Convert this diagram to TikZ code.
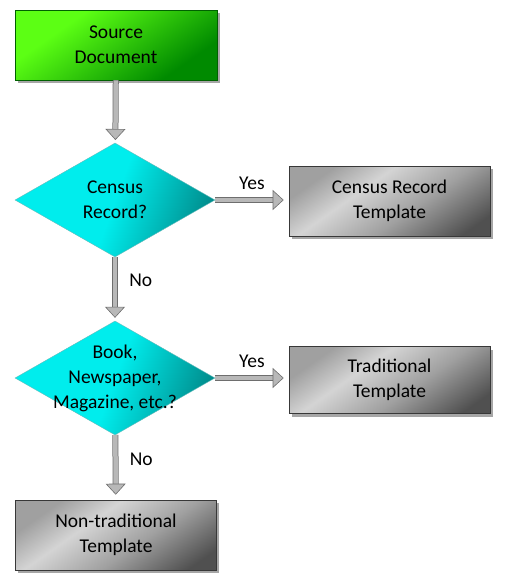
\documentclass[tikz,border=0pt]{standalone}
\usepackage{fontspec}
\setmainfont{Carlito}
\usetikzlibrary{arrows.meta,positioning,shapes.geometric,shadows}
\definecolor{greenlt}{HTML}{5CFF14}
\definecolor{greendk}{HTML}{008A00}
\definecolor{cyanlt}{HTML}{00EDED}
\definecolor{tealdk}{HTML}{008C8C}
\definecolor{steellt}{HTML}{D4D4D4}
\definecolor{steelmd}{HTML}{A0A0A0}
\definecolor{steeldk}{HTML}{505050}
\definecolor{shaftgray}{HTML}{B8B8B8}
\definecolor{edgegray}{HTML}{6E6E6E}
\pgfdeclarehorizontalshading{greenshade}{100bp}{color(0bp)=(greenlt); color(32bp)=(greenlt); color(72bp)=(greendk); color(100bp)=(greendk)}
\pgfdeclarehorizontalshading{cyanshade}{100bp}{color(0bp)=(cyanlt); color(50bp)=(cyanlt); color(76bp)=(tealdk); color(100bp)=(tealdk)}
\pgfdeclarehorizontalshading{steelshade}{100bp}{color(0bp)=(steelmd); color(26bp)=(steelmd); color(40bp)=(steellt); color(58bp)=(steelmd); color(78bp)=(steeldk); color(100bp)=(steeldk)}
\newcommand\flowfont{\fontsize{19.5}{25}\selectfont}
\tikzset{
  boxshadow/.style={drop shadow={shadow xshift=2.5pt,shadow yshift=-3pt,
                    opacity=0.35,fill=black}},
  startbox/.style={draw=greendk!70!black,line width=0.6pt,shading=greenshade,
                   shading angle=-55,minimum width=202pt,minimum height=70pt,
                   align=center,font=\flowfont,boxshadow},
  template/.style={draw=steeldk!70!black,line width=0.6pt,shading=steelshade,
                   shading angle=-55,minimum width=201pt,minimum height=70pt,
                   align=center,font=\flowfont,boxshadow},
  decision/.style={diamond,draw=tealdk!60,line width=0.4pt,shading=cyanshade,
                   shading angle=-20,minimum width=200pt,minimum height=114pt,
                   aspect=1.75,inner sep=-16pt,align=center,font=\flowfont},
  flowarr/.style={draw=shaftgray,line width=4.5pt,shorten >=5pt,
                  -{Triangle[length=11pt,width=20pt,line width=0.6pt,
                    fill=shaftgray,color=edgegray]},
                  preaction={draw=edgegray,line width=6pt,-,shorten >=14pt}},
  lbl/.style={font=\flowfont,inner sep=2pt}
}
\begin{document}
\begin{tikzpicture}[x=1pt,y=1pt]
  \path[use as bounding box] (0,0) rectangle (504,-587);
  \node[startbox] (src) at (116,-45) {Source\\Document};
  \node[decision] (censusq) at (115,-200) {Census\\Record?};
  \node[template] (census) at (389.5,-201) {Census Record\\Template};
  \node[decision] (printq) at (115,-378) {Book,\\Newspaper,\\Magazine, etc.?};
  \node[template,minimum height=67pt] (trad) at (389.5,-380) {Traditional\\Template};
  \node[template] (nontrad) at (116,-535) {Non-traditional\\Template};

  \draw[flowarr,shorten >=3pt] (src) -- (censusq);
  \draw[flowarr] (censusq.east) -- (censusq.east -| census.west)
    node[lbl,midway,above=6pt] {Yes};
  \draw[flowarr,shorten >=3pt] (censusq) -- (printq)
    node[lbl,pos=0.36,right=10pt] {No};
  \draw[flowarr] (printq.east) -- (printq.east -| trad.west)
    node[lbl,midway,above=6pt] {Yes};
  \draw[flowarr] (printq) -- (nontrad)
    node[lbl,pos=0.38,right=10pt] {No};
\end{tikzpicture}
\end{document}
